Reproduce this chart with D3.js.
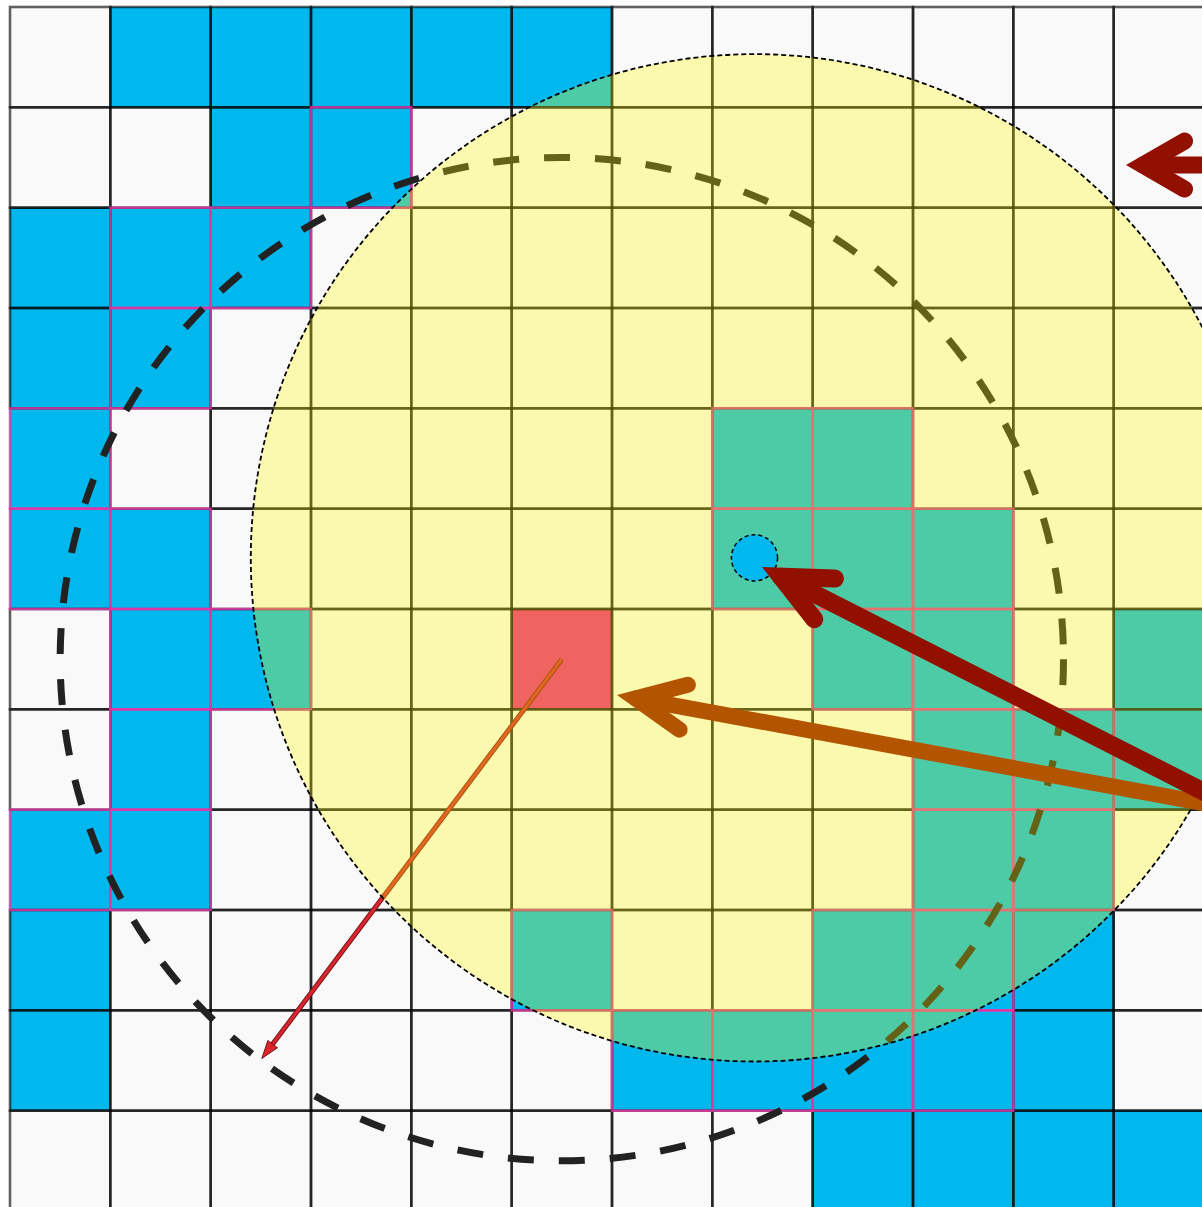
<!DOCTYPE html>
<html lang="en">
<head>
  <meta charset="UTF-8">
  <title>Sensing range grid</title>
  <script src="https://d3js.org/d3.v7.min.js"></script>
  <style>
    body { margin: 0; background: #fff; }
  </style>
</head>
<body>
<div id="chart"></div>
<script>
// grid cells, one string per row: B = occupied (blue), W = free, R = target
const gridRows = [
  "WBBBBBWWWWWW",
  "WWBBWWWWWWWW",
  "BBBWWWWWWWWW",
  "BBWWWWWWWWWW",
  "BWWWWWWBBWWW",
  "BBWWWWWBBBWW",
  "WBBWWRWWBBWB",
  "WBWWWWWWWBBB",
  "BBWWWWWWWBBW",
  "BWWWWBWWBBBW",
  "BWWWWWBBBBBW",
  "WWWWWWWWBBBB"
];

// circles, in grid units
const rangeRadius = 5;            // dashed circle around the target cell
const sensorCenter = [7.42, 5.49];
const sensorRadius = 5.02;
const nodeRadius = 0.23;

// arrows, in grid units
const arrowOrigin = [12.25, 8.0];
const arrowTips = [[7.495, 5.582], [6.05, 6.857]];
const topArrowFrom = [12.6, 1.575];
const topArrowTip = [11.123, 1.575];
const thinArrowTip = [2.51, 10.48];

const W = 1202, H = 1207;

const gx = d3.scaleLinear().domain([0, 12]).range([10, 1214]);
const gy = d3.scaleLinear().domain([0, 12]).range([7, 1211]);
const unit = gx(1) - gx(0);

const fillColor = { B: "#00b8ee", W: "#f9f9f9", R: "#e8248b" };

const svg = d3.select("#chart").append("svg")
  .attr("width", W)
  .attr("height", H);

// build cell list
const cells = [];
gridRows.forEach((row, r) => {
  row.split("").forEach((t, c) => cells.push({ r, c, t }));
});
const target = cells.find(d => d.t === "R");
const targetCenter = [target.c + 0.5, target.r + 0.5];

// a blue cell is "in range" when the dashed circle reaches it
cells.forEach(d => {
  const nx = Math.max(d.c, Math.min(targetCenter[0], d.c + 1));
  const ny = Math.max(d.r, Math.min(targetCenter[1], d.r + 1));
  d.inRange = d.t === "B" && Math.hypot(nx - targetCenter[0], ny - targetCenter[1]) <= rangeRadius;
});

const cellG = svg.append("g");
cellG.selectAll("rect.fill")
  .data(cells)
  .enter().append("rect")
  .attr("class", "fill")
  .attr("x", d => gx(d.c))
  .attr("y", d => gy(d.r))
  .attr("width", unit)
  .attr("height", unit)
  .attr("fill", d => fillColor[d.t]);

// grey borders first, magenta ones on top
cellG.selectAll("rect.edge")
  .data(cells.filter(d => !d.inRange))
  .enter().append("rect")
  .attr("class", "edge")
  .attr("x", d => gx(d.c))
  .attr("y", d => gy(d.r))
  .attr("width", unit)
  .attr("height", unit)
  .attr("fill", "none")
  .attr("stroke", "rgba(0,0,0,0.62)")
  .attr("stroke-width", 2.6);

cellG.selectAll("rect.hot")
  .data(cells.filter(d => d.inRange))
  .enter().append("rect")
  .attr("class", "hot")
  .attr("x", d => gx(d.c))
  .attr("y", d => gy(d.r))
  .attr("width", unit)
  .attr("height", unit)
  .attr("fill", "none")
  .attr("stroke", "rgba(228,50,160,0.82)")
  .attr("stroke-width", 2.5);

// dashed range circle
svg.append("circle")
  .attr("cx", gx(targetCenter[0]))
  .attr("cy", gy(targetCenter[1]))
  .attr("r", rangeRadius * unit)
  .attr("fill", "none")
  .attr("stroke", "#222")
  .attr("stroke-width", 7)
  .attr("stroke-dasharray", "26,25");

// thin radius arrow
const tx0 = gx(targetCenter[0]), ty0 = gy(targetCenter[1]);
const tx1 = gx(thinArrowTip[0]), ty1 = gy(thinArrowTip[1]);
const thinAng = Math.atan2(ty1 - ty0, tx1 - tx0);
const headLen = 18, headW = 6;
const bx = tx1 - headLen * Math.cos(thinAng), by = ty1 - headLen * Math.sin(thinAng);
svg.append("line")
  .attr("x1", tx0).attr("y1", ty0).attr("x2", bx).attr("y2", by)
  .attr("stroke", "#7a1418").attr("stroke-width", 5);
svg.append("line")
  .attr("x1", tx0).attr("y1", ty0).attr("x2", bx).attr("y2", by)
  .attr("stroke", "#d9262e").attr("stroke-width", 3);
svg.append("path")
  .attr("d", d3.line()([
    [tx1, ty1],
    [bx + headW * Math.sin(thinAng), by - headW * Math.cos(thinAng)],
    [bx - headW * Math.sin(thinAng), by + headW * Math.cos(thinAng)]
  ]) + "Z")
  .attr("fill", "#d9262e")
  .attr("stroke", "#7a1418")
  .attr("stroke-width", 1);

// sensing area (translucent yellow)
svg.append("circle")
  .attr("cx", gx(sensorCenter[0]))
  .attr("cy", gy(sensorCenter[1]))
  .attr("r", sensorRadius * unit)
  .attr("fill", "rgb(255,247,0)")
  .attr("fill-opacity", 0.3);
svg.append("circle")
  .attr("cx", gx(sensorCenter[0]))
  .attr("cy", gy(sensorCenter[1]))
  .attr("r", sensorRadius * unit)
  .attr("fill", "none")
  .attr("stroke", "#000")
  .attr("stroke-width", 1.8)
  .attr("stroke-dasharray", "5,3");

// node
svg.append("circle")
  .attr("cx", gx(sensorCenter[0]))
  .attr("cy", gy(sensorCenter[1]))
  .attr("r", nodeRadius * unit)
  .attr("fill", "#00b8ee")
  .attr("stroke", "#000")
  .attr("stroke-width", 1.5)
  .attr("stroke-dasharray", "4,3");

// thick chevron arrows
function bigArrow(from, tip, color, width, halfDeg = 25, arm = 54) {
  const x0 = gx(from[0]), y0 = gy(from[1]);
  const x1 = gx(tip[0]), y1 = gy(tip[1]);
  const a = Math.atan2(y0 - y1, x0 - x1);      // direction back toward tail
  const half = halfDeg * Math.PI / 180;
  const back = (width / 2) / Math.sin(half);    // miter overshoot
  const vx = x1 + back * Math.cos(a), vy = y1 + back * Math.sin(a);
  const g = svg.append("g")
    .attr("fill", "none")
    .attr("stroke", color)
    .attr("stroke-width", width);
  g.append("path")
    .attr("d", d3.line()([[x0, y0], [vx, vy]]))
    .attr("stroke-linecap", "round");
  g.append("path")
    .attr("d", d3.line()([
      [vx + arm * Math.cos(a - half), vy + arm * Math.sin(a - half)],
      [vx, vy],
      [vx + arm * Math.cos(a + half), vy + arm * Math.sin(a + half)]
    ]))
    .attr("stroke-linecap", "round")
    .attr("stroke-linejoin", "miter");
}

bigArrow(arrowOrigin, arrowTips[1], "#b35500", 16);
bigArrow(arrowOrigin, arrowTips[0], "#921000", 18);
bigArrow(topArrowFrom, topArrowTip, "#921000", 17, 30, 48);
</script>
</body>
</html>
